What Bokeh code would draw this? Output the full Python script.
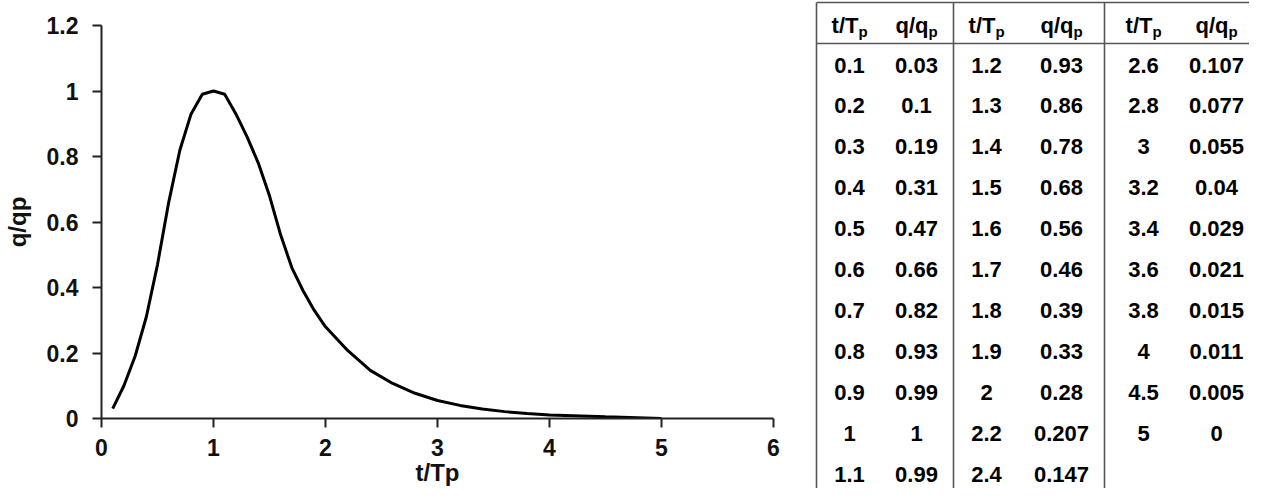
from bokeh.plotting import figure
from bokeh.layouts import row
from bokeh.models import Range1d, FixedTicker
from bokeh.core.properties import value
from bokeh.embed import file_html
from bokeh.resources import INLINE

# ---- data (SCS dimensionless unit hydrograph) ----
t_ratio = [0.1, 0.2, 0.3, 0.4, 0.5, 0.6, 0.7, 0.8, 0.9, 1.0, 1.1,
           1.2, 1.3, 1.4, 1.5, 1.6, 1.7, 1.8, 1.9, 2.0, 2.2, 2.4,
           2.6, 2.8, 3.0, 3.2, 3.4, 3.6, 3.8, 4.0, 4.5, 5.0]
q_ratio = [0.03, 0.1, 0.19, 0.31, 0.47, 0.66, 0.82, 0.93, 0.99, 1.0, 0.99,
           0.93, 0.86, 0.78, 0.68, 0.56, 0.46, 0.39, 0.33, 0.28, 0.207, 0.147,
           0.107, 0.077, 0.055, 0.04, 0.029, 0.021, 0.015, 0.011, 0.005, 0.0]
table_group_sizes = [11, 11, 10]

x_ticks = [0, 1, 2, 3, 4, 5, 6]
y_ticks = [0, 0.2, 0.4, 0.6, 0.8, 1.0, 1.2]
y_tick_labels = ["0", "0.2", "0.4", "0.6", "0.8", "1", "1.2"]
x_label = "t/Tp"
y_label = "q/qp"
header_main = ["t/T", "q/q"]
header_sub = "p"

FONT = value("Liberation Sans")

# ---- chart ----
p1 = figure(width=800, height=488, x_range=Range1d(0, 6), y_range=Range1d(0, 1.2),
            output_backend="svg", toolbar_location=None,
            min_border_left=98, min_border_right=27, min_border_top=25, min_border_bottom=70)
p1.frame_align = False
p1.outline_line_color = None
p1.xgrid.grid_line_color = None
p1.ygrid.grid_line_color = None

p1.line(t_ratio, q_ratio, line_color="black", line_width=3)

p1.xaxis.ticker = FixedTicker(ticks=x_ticks)
p1.yaxis.ticker = FixedTicker(ticks=y_ticks)
p1.yaxis.major_label_overrides = {v: s for v, s in zip(y_ticks, y_tick_labels)}
p1.xaxis.axis_label = x_label
p1.yaxis.axis_label = y_label

for ax in p1.axis:
    ax.axis_line_color = "#222222"
    ax.axis_line_width = 2
    ax.major_tick_line_color = "#222222"
    ax.major_tick_line_width = 2
    ax.major_tick_in = 0
    ax.major_tick_out = 9
    ax.minor_tick_line_color = None
    ax.major_label_text_font = "Liberation Sans"
    ax.major_label_text_font_style = "bold"
    ax.major_label_text_font_size = "23px"
    ax.major_label_text_color = "#111111"
    ax.axis_label_text_font = "Liberation Sans"
    ax.axis_label_text_font_style = "bold"
    ax.axis_label_text_font_size = "24px"
    ax.axis_label_text_color = "#111111"

p1.xaxis.major_label_standoff = 11
p1.xaxis.axis_label_standoff = 0
p1.yaxis.major_label_standoff = 14
p1.yaxis.axis_label_standoff = 13

# ---- table ----
p2 = figure(width=449, height=488, x_range=Range1d(800, 1249), y_range=Range1d(488, 0),
            output_backend="svg", toolbar_location=None,
            x_axis_location=None, y_axis_location=None,
            min_border_left=0, min_border_right=0, min_border_top=0, min_border_bottom=0)
p2.frame_align = False
p2.outline_line_color = None
p2.xgrid.grid_line_color = None
p2.ygrid.grid_line_color = None

col_centers = [(849, 916), (986, 1061), (1143, 1216)]
row0_center = 64.5
row_step = 40.95
header_center = 25.0
sub_center = 31.0

tx, ty, tt = [], [], []
start = 0
for g, n in enumerate(table_group_sizes):
    xt, xq = col_centers[g]
    for i in range(n):
        k = start + i
        y = row0_center + row_step * i
        tx += [xt, xq]
        ty += [y, y]
        tt += [f"{t_ratio[k]:g}", f"{q_ratio[k]:g}"]
    start += n

p2.text(x=tx, y=ty, text=tt, text_align="center", text_baseline="middle",
        text_font=FONT, text_font_style="bold", text_font_size="22px", text_color="black")

hx, hy, ht, sx, sy = [], [], [], [], []
offsets = [9, 12]
for (xt, xq) in col_centers:
    for c, (xc, off) in enumerate(zip((xt, xq), offsets)):
        hx.append(xc + off)
        hy.append(header_center)
        ht.append(header_main[c])
        sx.append(xc + off)
        sy.append(sub_center)

p2.text(x=hx, y=hy, text=ht, text_align="right", text_baseline="middle",
        text_font=FONT, text_font_style="bold", text_font_size="22px", text_color="black")
p2.text(x=sx, y=sy, text=[header_sub] * len(sx), text_align="left", text_baseline="middle",
        text_font=FONT, text_font_style="bold", text_font_size="15px", text_color="black")

# table rules
p2.segment(x0=[816, 816], y0=[2, 43], x1=[1249, 1249], y1=[2, 43],
           line_color="#555555", line_width=1.6)
p2.segment(x0=[816, 953, 1104], y0=[2, 2, 2], x1=[816, 953, 1104], y1=[488, 488, 488],
           line_color="#555555", line_width=1.6)

layout = row(p1, p2, spacing=0)
open("out.html", "w").write(file_html(layout, INLINE))
